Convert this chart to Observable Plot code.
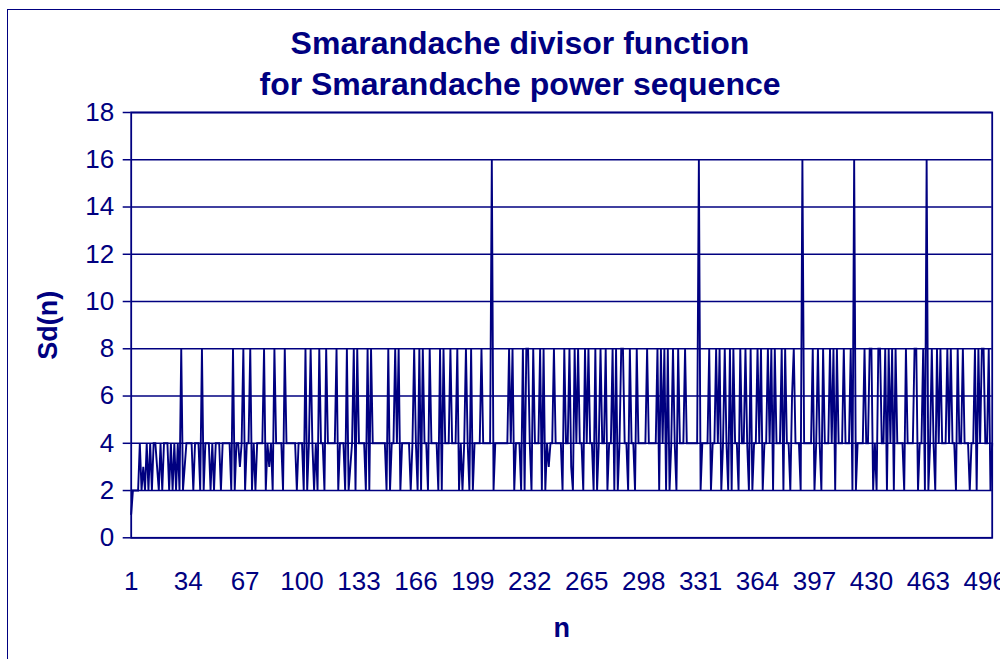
<!DOCTYPE html>
<html>
<head>
<meta charset="utf-8">
<script src="https://cdn.jsdelivr.net/npm/d3@7"></script>
<script src="https://cdn.jsdelivr.net/npm/@observablehq/plot@0.6"></script>
<style>
  html, body { margin: 0; padding: 0; background: #fff; overflow: hidden; }
  #wrap { position: relative; width: 1000px; height: 659px; overflow: hidden;
          font-family: "Liberation Sans", Arial, sans-serif; color: #000080; background: #fff; }
  #wrap svg { position: absolute; left: 0; top: 0; }
  #border { position: absolute; left: 7px; top: 9px; width: 1100px; height: 800px;
            border: 1.5px solid #000080; box-sizing: border-box; pointer-events: none; }
  .title { position: absolute; left: 0; width: 1040px; text-align: center; font-weight: bold;
           font-size: 32px; line-height: 32px; white-space: nowrap; }
</style>
</head>
<body>
<div id="wrap">
  <div class="title" style="top:27px"></div>
  <div class="title" style="top:68px"></div>
</div>
<script>
// Sd(n) values for n = 1 .. 500, read row by row (10 per row)
const sdValues = [
  1,2,2,2,2,4,2,3,2,4,
  2,4,2,4,4,3,2,4,2,4,
  4,4,2,4,2,4,2,4,2,8,
  2,3,4,4,4,4,2,4,4,4,
  2,8,2,4,4,4,2,4,2,4,
  4,4,2,4,4,4,4,4,2,8,
  2,4,4,3,4,8,2,4,4,8,
  2,4,2,4,4,4,4,8,2,4,
  3,4,2,8,4,4,4,4,2,8,
  4,4,4,4,4,4,2,4,4,4,
  2,8,2,4,8,4,2,4,2,8,
  4,4,2,8,4,4,4,4,4,8,
  2,4,4,4,2,8,2,3,4,8,
  2,8,4,4,4,4,2,8,2,8,
  4,4,4,4,4,4,4,4,2,8,
  2,4,4,8,4,8,2,4,4,4,
  4,4,2,4,8,4,2,8,2,8,
  4,4,2,8,4,4,4,4,2,8,
  2,8,4,4,4,8,4,4,4,8,
  2,4,2,4,8,4,2,8,2,4,
  4,4,4,8,4,4,4,4,4,16,
  2,4,4,4,4,4,4,4,4,8,
  4,8,2,4,4,4,2,8,2,8,
  8,4,2,8,4,4,4,8,2,8,
  2,4,3,4,4,8,4,4,4,4,
  2,8,4,4,8,3,2,8,4,8,
  4,4,2,8,4,8,4,4,2,8,
  2,4,8,4,4,8,2,4,4,8,
  2,8,2,4,8,8,4,4,2,8,
  4,4,2,8,4,4,4,4,4,8,
  4,4,4,4,4,8,2,8,4,8,
  2,8,2,4,8,4,2,8,4,4,
  4,8,4,4,4,4,4,4,4,16,
  2,4,4,4,4,8,2,4,4,8,
  4,8,2,4,8,4,2,8,2,8,
  4,4,2,8,4,4,8,4,2,8,
  2,4,4,8,4,8,2,4,4,8,
  4,8,2,8,4,4,4,8,2,8,
  4,4,2,6,8,4,4,4,2,16,
  4,4,4,4,4,8,2,4,8,4,
  2,8,4,4,4,8,4,8,2,8,
  4,4,4,8,4,4,4,8,2,16,
  2,4,4,4,4,8,4,4,8,8,
  2,4,2,8,8,4,4,8,2,8,
  4,8,2,8,4,4,4,4,2,8,
  4,4,4,4,8,8,2,4,4,8,
  2,16,2,4,8,4,2,8,4,8,
  4,4,4,8,4,8,4,4,2,8,
  4,4,8,4,4,4,2,4,4,8,
  2,8,4,8,8,4,4,8,2,4
];
const xTickLabels = [1, 34, 67, 100, 133, 166, 199, 232, 265, 298, 331, 364, 397, 430, 463, 496];
const yTicks = [0, 2, 4, 6, 8, 10, 12, 14, 16, 18];
const titleLines = ["Smarandache divisor function", "for Smarandache power sequence"];
const xLabel = "n";
const yLabel = "Sd(n)";

const navy = "#000080";
const data = sdValues.map((v, i) => ({n: i + 1, sd: v}));

const chart = Plot.plot({
  width: 1000,
  height: 659,
  marginLeft: 130.7,
  marginRight: 8.3,
  marginTop: 112,
  marginBottom: 121.7,
  x: {domain: [1, sdValues.length]},
  y: {domain: [0, 18]},
  style: {fontFamily: '"Liberation Sans", Arial, sans-serif', color: navy, background: "transparent", overflow: "visible"},
  marks: [
    Plot.gridY(yTicks, {stroke: navy, strokeOpacity: 1, strokeWidth: 1.5}),
    Plot.line(data, {x: "n", y: "sd", stroke: navy, strokeWidth: 1.9, strokeLinejoin: "miter", strokeMiterlimit: 2}),
    Plot.frame({stroke: navy, strokeWidth: 1.8}),
    Plot.axisY(yTicks, {tickSize: 8, tickPadding: 9, fontSize: 26, stroke: navy, fill: navy, strokeWidth: 1.5, label: null}),
    Plot.axisX(xTickLabels, {tickSize: 0, tickPadding: 34, fontSize: 26, fill: navy, label: null, tickFormat: d => String(d)}),
    Plot.text([yLabel], {frameAnchor: "left", dx: -82.7, rotate: -90, textAnchor: "middle", lineAnchor: "middle", fontWeight: "bold", fontSize: 27, fill: navy}),
    Plot.text([xLabel], {frameAnchor: "bottom", dy: 90.7, textAnchor: "middle", lineAnchor: "middle", fontWeight: "bold", fontSize: 27, fill: navy})
  ]
});

const wrap = document.getElementById("wrap");
wrap.insertBefore(chart, wrap.firstChild);
const border = document.createElement("div");
border.id = "border";
wrap.appendChild(border);
wrap.querySelectorAll(".title").forEach((el, i) => { el.textContent = titleLines[i]; });
</script>
</body>
</html>
